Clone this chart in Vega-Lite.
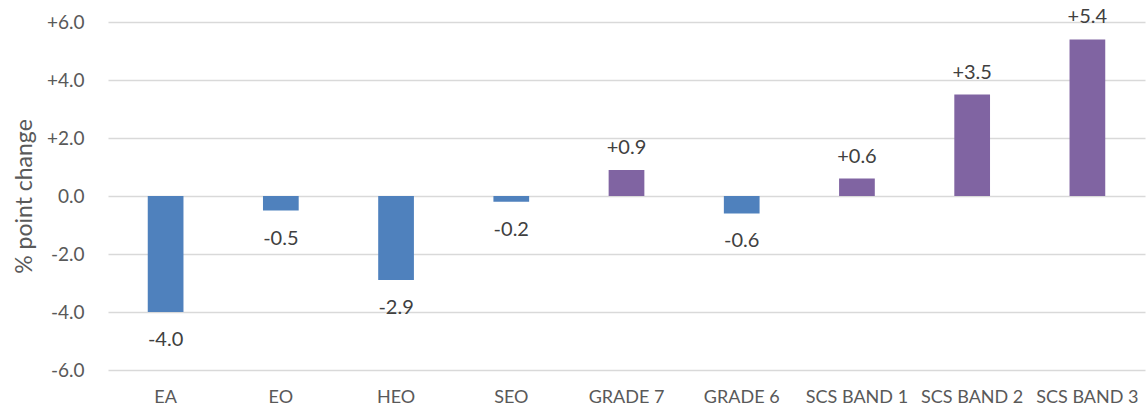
{
  "$schema": "https://vega.github.io/schema/vega-lite/v6.json",
  "autosize": "none",
  "padding": {"left": 108, "top": 22, "right": 2, "bottom": 41},
  "width": 1037,
  "height": 348,
  "background": "white",
  "config": {"view": {"stroke": null}, "font": "Lato",
    "locale": {"number": {"decimal": ".", "thousands": ",", "grouping": [3], "currency": ["$", ""], "minus": "-"}}},
  "data": {"values": [
    {"category": "EA", "change": -4.0, "direction": "decrease"},
    {"category": "EO", "change": -0.5, "direction": "decrease"},
    {"category": "HEO", "change": -2.9, "direction": "decrease"},
    {"category": "SEO", "change": -0.2, "direction": "decrease"},
    {"category": "GRADE 7", "change": 0.9, "direction": "increase"},
    {"category": "GRADE 6", "change": -0.6, "direction": "decrease"},
    {"category": "SCS BAND 1", "change": 0.6, "direction": "increase"},
    {"category": "SCS BAND 2", "change": 3.5, "direction": "increase"},
    {"category": "SCS BAND 3", "change": 5.4, "direction": "increase"}
  ]},
  "encoding": {
    "x": {"field": "category", "type": "nominal", "sort": null,
      "scale": {"paddingInner": 0.69, "paddingOuter": 0.345},
      "axis": {"title": null, "domain": false, "ticks": false, "labelAngle": 0, "labelFontSize": 18, "labelColor": "#595959", "labelPadding": 18, "labelOverlap": false, "labelLimit": 0, "grid": false}},
    "y": {"field": "change", "type": "quantitative",
      "scale": {"domain": [-6, 6], "nice": false},
      "axis": {"title": "% point change", "titleFontSize": 23, "titleFontWeight": "normal", "titleColor": "#595959", "titlePadding": 10,
        "values": [-6, -4, -2, 0, 2, 4, 6], "labelExpr": "datum.value > 0 ? '+' + format(datum.value, '.1f') : format(datum.value, '.1f')",
        "labelFontSize": 19, "labelColor": "#595959", "labelPadding": 24, "ticks": false, "domain": false,
        "grid": true, "gridColor": "#d9d9d9", "gridWidth": 1.5}}
  },
  "layer": [
    {"mark": {"type": "bar"},
      "encoding": {"color": {"field": "direction", "type": "nominal", "legend": null,
        "scale": {"domain": ["decrease", "increase"], "range": ["#4F81BD", "#8064A2"]}}}},
    {"transform": [{"filter": "datum.change > 0"}],
      "mark": {"type": "text", "baseline": "bottom", "dy": -12, "fontSize": 20, "color": "#404040"},
      "encoding": {"text": {"field": "change", "type": "quantitative", "format": "+.1f"}}},
    {"transform": [{"filter": "datum.change < 0"}],
      "mark": {"type": "text", "baseline": "top", "dy": 18, "fontSize": 20, "color": "#404040"},
      "encoding": {"text": {"field": "change", "type": "quantitative", "format": ".1f"}}}
  ]
}
